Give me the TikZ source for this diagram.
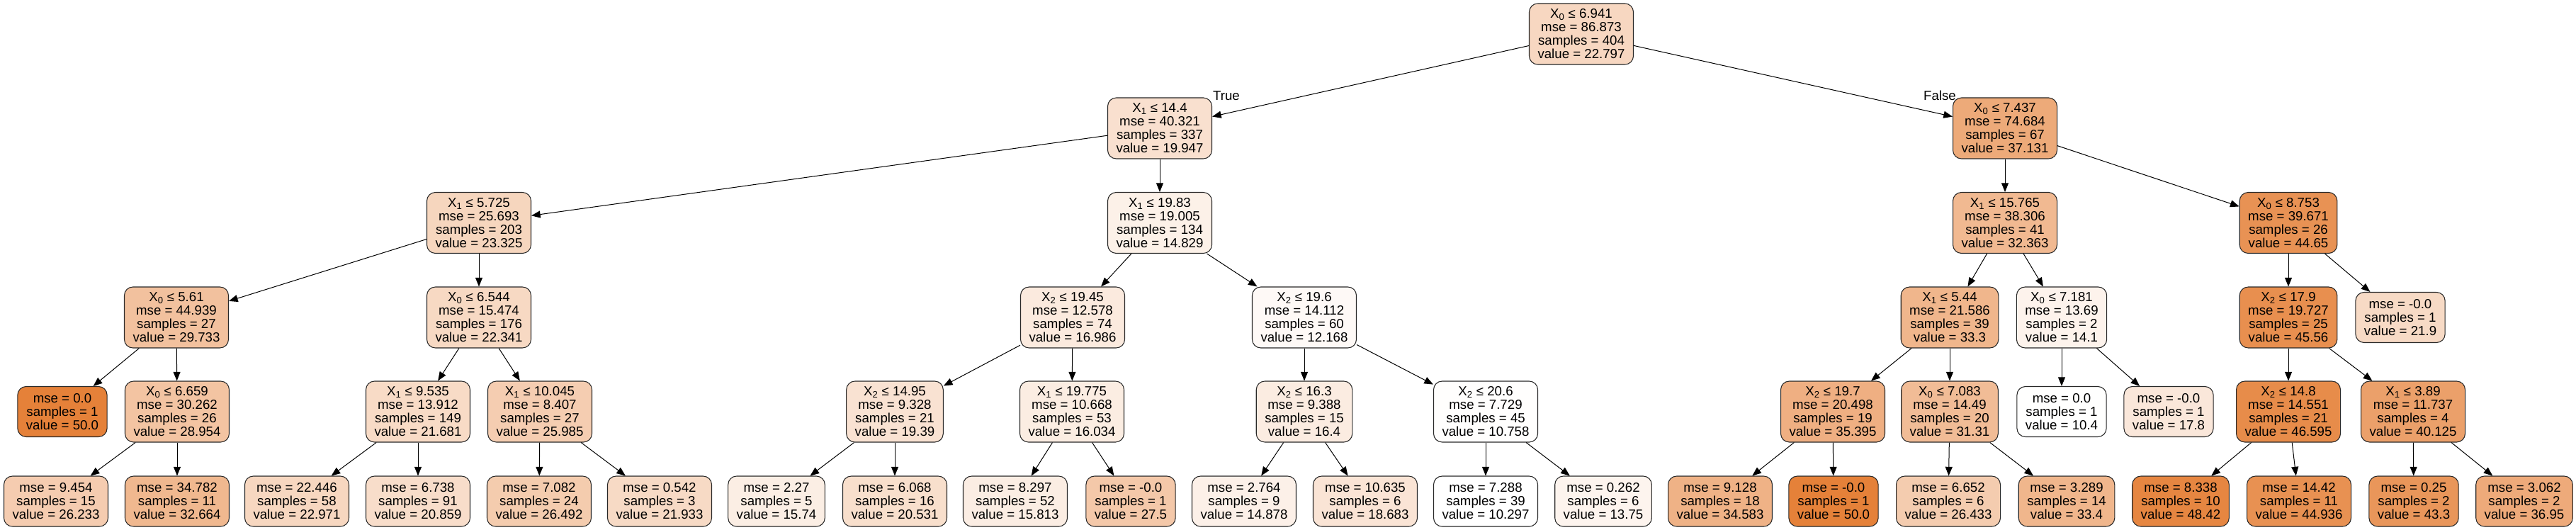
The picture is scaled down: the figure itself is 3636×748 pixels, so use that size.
\documentclass[tikz,border=0pt]{standalone}
\usepackage{fontspec}
\setmainfont{Liberation Sans}
\usetikzlibrary{arrows.meta}
\definecolor{base}{RGB}{229,129,57}
\definecolor{boxline}{RGB}{40,40,40}
\tikzset{
  tbox/.style={draw=boxline, line width=0.8pt, rounded corners=9pt, align=center,
    inner xsep=9pt, inner ysep=0pt, font=\fontsize{14}{14.25}\selectfont},
  inode/.style={tbox, minimum height=64.5pt},
  lnode/.style={tbox, minimum height=53.25pt},
  conn/.style={draw=black, line width=0.75pt, -{Triangle[length=9.5pt,width=7.5pt]}},
  elabel/.style={font=\fontsize{14}{14}\selectfont, inner sep=0pt},
}
\newcommand{\TreeInner}[8]{%
  \pgfmathsetmacro{\tpct}{(#8-10.297)/39.703*100}%
  \node[inode, fill=base!\tpct!white] (#1) at (#2,#3)
    {X\textsubscript{#4} ≤ #5\\mse = #6\\samples = #7\\value = #8};}
\newcommand{\TreeLeaf}[6]{%
  \pgfmathsetmacro{\tpct}{(#6-10.297)/39.703*100}%
  \node[lnode, fill=base!\tpct!white] (#1) at (#2,#3)
    {mse = #4\\samples = #5\\value = #6};}
\begin{document}
\begin{tikzpicture}[x=0.75pt, y=-0.75pt]
\useasboundingbox (0,0) rectangle (3636,748);
% level 0
\TreeInner{r}{2232}{48}{0}{6.941}{86.873}{404}{22.797}
% level 1
\TreeInner{L}{1637}{181}{1}{14.4}{40.321}{337}{19.947}
\TreeInner{R}{2830}{181}{0}{7.437}{74.684}{67}{37.131}
% level 2
\TreeInner{LL}{676}{314.5}{1}{5.725}{25.693}{203}{23.325}
\TreeInner{LR}{1637}{314.5}{1}{19.83}{19.005}{134}{14.829}
\TreeInner{RL}{2830}{314.5}{1}{15.765}{38.306}{41}{32.363}
\TreeInner{RR}{3230}{314.5}{0}{8.753}{39.671}{26}{44.65}
% level 3
\TreeInner{LLL}{249}{448}{0}{5.61}{44.939}{27}{29.733}
\TreeInner{LLR}{676}{448}{0}{6.544}{15.474}{176}{22.341}
\TreeInner{LRL}{1514}{448}{2}{19.45}{12.578}{74}{16.986}
\TreeInner{LRR}{1841}{448}{2}{19.6}{14.112}{60}{12.168}
\TreeInner{RLL}{2752}{448}{1}{5.44}{21.586}{39}{33.3}
\TreeInner{RLR}{2910}{448}{0}{7.181}{13.69}{2}{14.1}
\TreeInner{RRL}{3230}{448}{2}{17.9}{19.727}{25}{45.56}
\TreeLeaf{RRR}{3388}{448}{-0.0}{1}{21.9}
% level 4
\TreeLeaf{LLLL}{88}{581}{0.0}{1}{50.0}
\TreeInner{LLLR}{250}{581}{0}{6.659}{30.262}{26}{28.954}
\TreeInner{LLRL}{590}{581}{1}{9.535}{13.912}{149}{21.681}
\TreeInner{LLRR}{762}{581}{1}{10.045}{8.407}{27}{25.985}
\TreeInner{LRLL}{1263}{581}{2}{14.95}{9.328}{21}{19.39}
\TreeInner{LRLR}{1513}{581}{1}{19.775}{10.668}{53}{16.034}
\TreeInner{LRRL}{1841}{581}{2}{16.3}{9.388}{15}{16.4}
\TreeInner{LRRR}{2097}{581}{2}{20.6}{7.729}{45}{10.758}
\TreeInner{RLLL}{2587}{581}{2}{19.7}{20.498}{19}{35.395}
\TreeInner{RLLR}{2752}{581}{0}{7.083}{14.49}{20}{31.31}
\TreeLeaf{RLRL}{2910}{581}{0.0}{1}{10.4}
\TreeLeaf{RLRR}{3061}{581}{-0.0}{1}{17.8}
\TreeInner{RRLL}{3230}{581}{2}{14.8}{14.551}{21}{46.595}
\TreeInner{RRLR}{3406}{581}{1}{3.89}{11.737}{4}{40.125}
% level 5
\TreeLeaf{LLLRL}{79}{707.5}{9.454}{15}{26.233}
\TreeLeaf{LLLRR}{250}{707.5}{34.782}{11}{32.664}
\TreeLeaf{LLRLL}{419}{707.5}{22.446}{58}{22.971}
\TreeLeaf{LLRLR}{590}{707.5}{6.738}{91}{20.859}
\TreeLeaf{LLRRL}{761}{707.5}{7.082}{24}{26.492}
\TreeLeaf{LLRRR}{931}{707.5}{0.542}{3}{21.933}
\TreeLeaf{LRLLL}{1096}{707.5}{2.27}{5}{15.74}
\TreeLeaf{LRLLR}{1263}{707.5}{6.068}{16}{20.531}
\TreeLeaf{LRLRL}{1433}{707.5}{8.297}{52}{15.813}
\TreeLeaf{LRLRR}{1596}{707.5}{-0.0}{1}{27.5}
\TreeLeaf{LRRLL}{1756}{707.5}{2.764}{9}{14.878}
\TreeLeaf{LRRLR}{1927}{707.5}{10.635}{6}{18.683}
\TreeLeaf{LRRRL}{2097}{707.5}{7.288}{39}{10.297}
\TreeLeaf{LRRRR}{2263}{707.5}{0.262}{6}{13.75}
\TreeLeaf{RLLLL}{2428}{707.5}{9.128}{18}{34.583}
\TreeLeaf{RLLLR}{2588}{707.5}{-0.0}{1}{50.0}
\TreeLeaf{RLLRL}{2750}{707.5}{6.652}{6}{26.433}
\TreeLeaf{RLLRR}{2917}{707.5}{3.289}{14}{33.4}
\TreeLeaf{RRLLL}{3078}{707.5}{8.338}{10}{48.42}
\TreeLeaf{RRLLR}{3245}{707.5}{14.42}{11}{44.936}
\TreeLeaf{RRLRL}{3407}{707.5}{0.25}{2}{43.3}
\TreeLeaf{RRLRR}{3563}{707.5}{3.062}{2}{36.95}
% edge labels
\node[elabel] (tl) at (1731,135) {True};
\node[elabel] (fl) at (2738,135) {False};
% edges
\foreach \p/\c in {r/L, r/R, L/LL, L/LR, R/RL, R/RR,
  LL/LLL, LL/LLR, LR/LRL, LR/LRR, RL/RLL, RL/RLR, RR/RRL, RR/RRR,
  LLL/LLLL, LLL/LLLR, LLR/LLRL, LLR/LLRR, LRL/LRLL, LRL/LRLR, LRR/LRRL, LRR/LRRR,
  RLL/RLLL, RLL/RLLR, RLR/RLRL, RLR/RLRR, RRL/RRLL, RRL/RRLR,
  LLLR/LLLRL, LLLR/LLLRR, LLRL/LLRLL, LLRL/LLRLR, LLRR/LLRRL, LLRR/LLRRR,
  LRLL/LRLLL, LRLL/LRLLR, LRLR/LRLRL, LRLR/LRLRR, LRRL/LRRLL, LRRL/LRRLR,
  LRRR/LRRRL, LRRR/LRRRR, RLLL/RLLLL, RLLL/RLLLR, RLLR/RLLRL, RLLR/RLLRR,
  RRLL/RRLLL, RRLL/RRLLR, RRLR/RRLRL, RRLR/RRLRR}
  \draw[conn] (\p) -- (\c);
\end{tikzpicture}
\end{document}
